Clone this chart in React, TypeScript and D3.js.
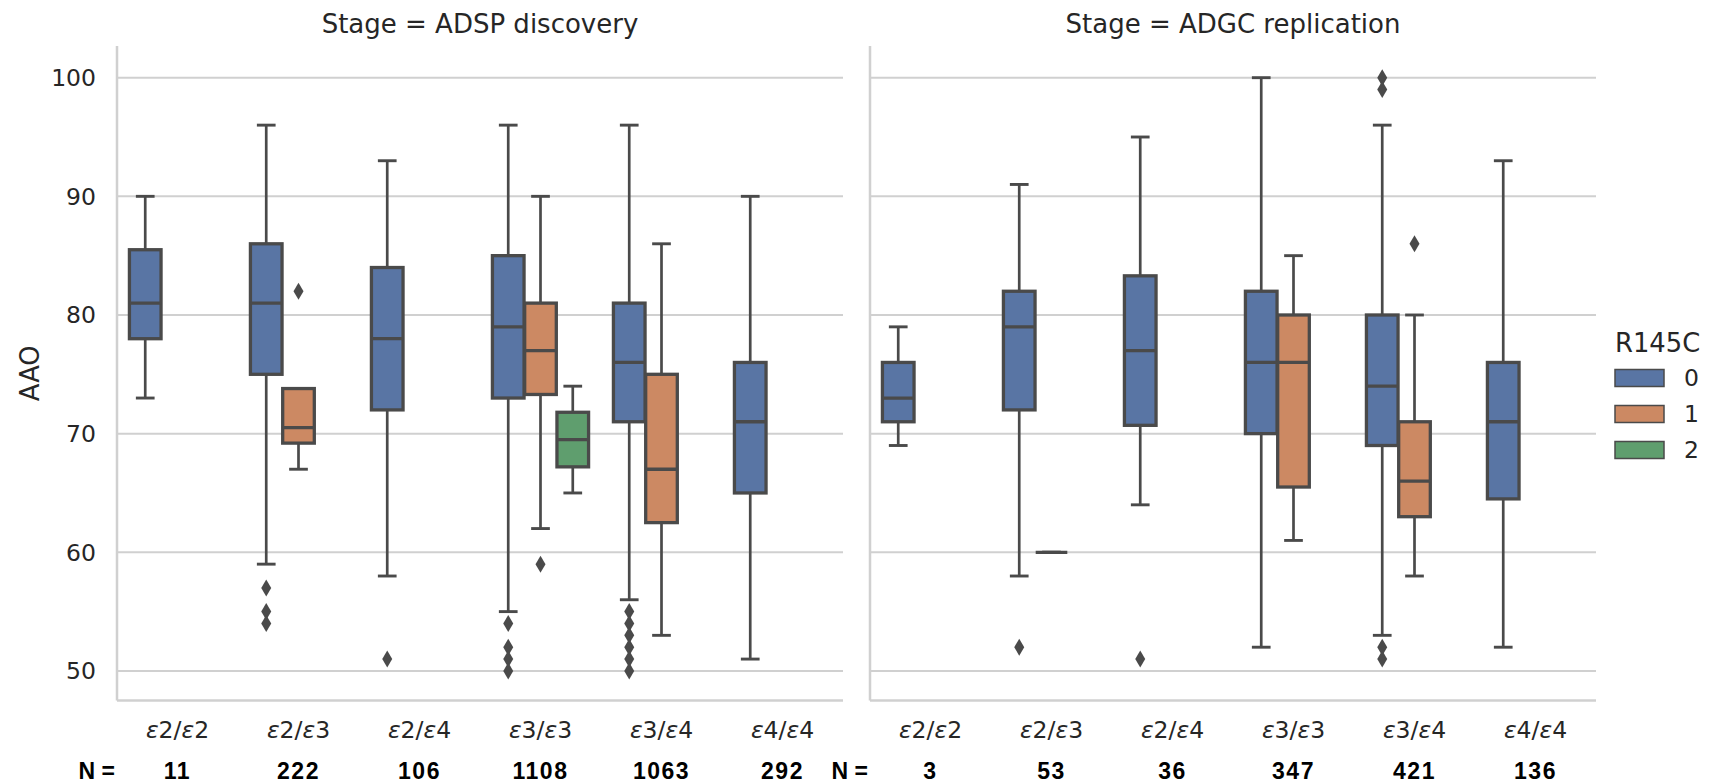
import React from 'react';
import * as d3 from 'd3';

const genotypes = ['2/2', '2/3', '2/4', '3/3', '3/4', '4/4'];
const hueLevels = ['0', '1', '2'];
const hueColors = ['#5975a4', '#cc8963', '#5f9e6e'];
const panelTitles = ['Stage = ADSP discovery', 'Stage = ADGC replication'];
const yTicks = [50, 60, 70, 80, 90, 100];

// [genotype index, hue, whisker low, q1, median, q3, whisker high, outliers]
const discoveryBoxes = [
  [0, 0, 73, 78, 81, 85.5, 90, []],
  [1, 0, 59, 75, 81, 86, 96, [57, 55, 54]],
  [1, 1, 67, 69.2, 70.5, 73.8, 73.8, [82]],
  [2, 0, 58, 72, 78, 84, 93, [51]],
  [3, 0, 55, 73, 79, 85, 96, [54, 52, 51, 50]],
  [3, 1, 62, 73.3, 77, 81, 90, [59]],
  [3, 2, 65, 67.2, 69.5, 71.8, 74, []],
  [4, 0, 56, 71, 76, 81, 96, [55, 54, 53, 52, 51, 50]],
  [4, 1, 53, 62.5, 67, 75, 86, []],
  [5, 0, 51, 65, 71, 76, 90, []],
];

const replicationBoxes = [
  [0, 0, 69, 71, 73, 76, 79, []],
  [1, 0, 58, 72, 79, 82, 91, [52]],
  [1, 1, 60, 60, 60, 60, 60, []],
  [2, 0, 64, 70.7, 77, 83.3, 95, [51]],
  [3, 0, 52, 70, 76, 82, 100, []],
  [3, 1, 61, 65.5, 76, 80, 85, []],
  [4, 0, 53, 69, 74, 80, 96, [100, 99, 52, 51]],
  [4, 1, 58, 63, 66, 71, 80, [86]],
  [5, 0, 52, 64.5, 71, 76, 93, []],
];

const discoveryN = ['11', '222', '106', '1108', '1063', '292'];
const replicationN = ['3', '53', '36', '347', '421', '136'];

const W = 1711;
const H = 783;
const top = 46;
const bottom = 700.6;
const panelW = 726;
const panelX = [117, 870];
const lineCol = '#4a4a4a';
const gridCol = '#d0d0d0';

const y = d3.scaleLinear().domain([47.5, 102.67]).range([bottom, top]);

function Panel({ x0, title, boxes, counts, showY }: any) {
  const x = d3.scaleBand<string>().domain(genotypes).range([x0, x0 + panelW]);
  const bw = x.bandwidth();
  const hue = d3.scaleBand<string>().domain(hueLevels).range([-0.4 * bw, 0.4 * bw]);
  const boxW = hue.bandwidth() * 0.98;
  const diamond = (cx: number, cy: number) =>
    `M${cx},${cy - 8.5}L${cx + 5},${cy}L${cx},${cy + 8.5}L${cx - 5},${cy}Z`;

  return (
    <g>
      <text x={x0 + panelW / 2} y={33} textAnchor="middle" fontSize={26} fill="#262626">
        {title}
      </text>
      {yTicks.map((t) => (
        <line key={t} x1={x0} x2={x0 + panelW} y1={y(t)} y2={y(t)} stroke={gridCol} strokeWidth={2} />
      ))}
      <line x1={x0} x2={x0} y1={top} y2={bottom} stroke={gridCol} strokeWidth={2.5} />
      <line x1={x0} x2={x0 + panelW} y1={bottom} y2={bottom} stroke={gridCol} strokeWidth={2.5} />
      {showY &&
        yTicks.map((t) => (
          <text key={t} x={x0 - 21} y={y(t)} dy="0.35em" textAnchor="end" fontSize={23.5} fill="#262626">
            {t}
          </text>
        ))}
      {genotypes.map((g) => {
        const [a, b] = g.split('/');
        return (
          <text key={g} x={x(g)! + bw / 2} y={738} textAnchor="middle" fontSize={23.5} fill="#262626">
            <tspan fontStyle="italic">ε</tspan>
            {a}/<tspan fontStyle="italic">ε</tspan>
            {b}
          </text>
        );
      })}
      {boxes.map((d: any, i: number) => {
        const [gi, h, lo, q1, med, q3, hi, outs] = d;
        const cx = x(genotypes[gi])! + bw / 2 + hue(hueLevels[h])! + hue.bandwidth() / 2;
        const capW = boxW / 2;
        return (
          <g key={i}>
            <line x1={cx} x2={cx} y1={y(q3)} y2={y(hi)} stroke={lineCol} strokeWidth={2.7} />
            <line x1={cx} x2={cx} y1={y(q1)} y2={y(lo)} stroke={lineCol} strokeWidth={2.7} />
            <line x1={cx - capW / 2} x2={cx + capW / 2} y1={y(hi)} y2={y(hi)} stroke={lineCol} strokeWidth={2.9} strokeLinecap="square" />
            <line x1={cx - capW / 2} x2={cx + capW / 2} y1={y(lo)} y2={y(lo)} stroke={lineCol} strokeWidth={2.9} strokeLinecap="square" />
            <rect
              x={cx - boxW / 2}
              y={y(q3)}
              width={boxW}
              height={y(q1) - y(q3)}
              fill={hueColors[h]}
              stroke={lineCol}
              strokeWidth={3.3}
            />
            <line x1={cx - boxW / 2} x2={cx + boxW / 2} y1={y(med)} y2={y(med)} stroke={lineCol} strokeWidth={3.3} />
            {outs.map((o: number, j: number) => (
              <path key={j} d={diamond(cx, y(o))} fill={lineCol} />
            ))}
          </g>
        );
      })}
      <text
        x={x0 - 2}
        y={771}
        dy="0.35em"
        textAnchor="end"
        fontSize={23}
        fontWeight="bold"
        fontFamily="'Liberation Sans', Arial, sans-serif"
        fill="#000"
      >
        N =
      </text>
      {counts.map((n: string, i: number) => (
        <text
          key={i}
          x={x(genotypes[i])! + bw / 2}
          y={771}
          dy="0.35em"
          textAnchor="middle"
          fontSize={23}
          fontWeight="bold"
          letterSpacing={1.5}
          fontFamily="'Liberation Sans', Arial, sans-serif"
          fill="#000"
        >
          {n}
        </text>
      ))}
    </g>
  );
}

export default function App() {
  const legendY = [378, 414, 450];
  return (
    <svg
      width={W}
      height={H}
      style={{ position: 'absolute', left: 0, top: 0, background: '#fff' }}
      fontFamily="'DejaVu Sans', sans-serif"
    >
      <rect width={W} height={H} fill="#fff" />
      <Panel x0={panelX[0]} title={panelTitles[0]} boxes={discoveryBoxes} counts={discoveryN} showY />
      <Panel x0={panelX[1]} title={panelTitles[1]} boxes={replicationBoxes} counts={replicationN} showY={false} />
      <text
        transform={`translate(30,${(top + bottom) / 2}) rotate(-90)`}
        textAnchor="middle"
        dy="0.35em"
        fontSize={25.8}
        fill="#262626"
      >
        AAO
      </text>
      <text x={1615} y={343} dy="0.35em" fontSize={25.8} fill="#262626">
        R145C
      </text>
      {hueLevels.map((h, i) => (
        <g key={h}>
          <rect x={1615} y={legendY[i] - 8.5} width={49} height={17} fill={hueColors[i]} stroke={lineCol} strokeWidth={1.5} />
          <text x={1684} y={legendY[i]} dy="0.35em" fontSize={23.5} fill="#262626">
            {h}
          </text>
        </g>
      ))}
    </svg>
  );
}
